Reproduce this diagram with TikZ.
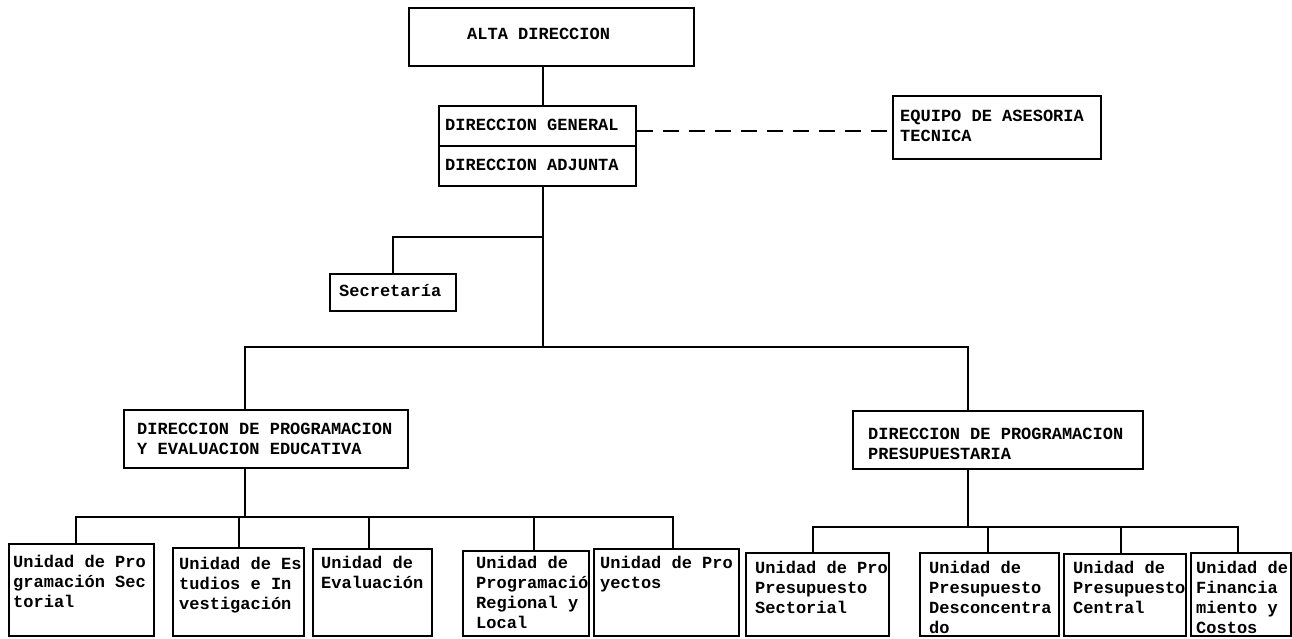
\documentclass[tikz,border=0pt]{standalone}
\usepackage{fontspec}
\setmonofont{Liberation Mono}
\begin{document}
\begin{tikzpicture}[x=1pt,y=-1pt,
  orgbox/.style={draw,line width=2.1pt,anchor=north west,inner sep=0pt},
  orgtext/.style={anchor=base west,inner sep=0pt,
    font=\ttfamily\bfseries\fontsize{17}{20}\selectfont},
  link/.style={line width=2.1pt},
  advice/.style={line width=2.1pt,dash pattern=on 16pt off 10pt}]
\useasboundingbox (0,0) rectangle (1292,638);

% box from (x1,y1) to (x2,y2) with its text set from a given first baseline
\newcommand\orgunit[8]{% name, x1, y1, x2, y2, text x, first baseline, text
  \pgfmathsetmacro\ouw{#4-#2}\pgfmathsetmacro\ouh{#5-#3}
  \node[orgbox,minimum width=\ouw pt,minimum height=\ouh pt] (#1) at (#2,#3) {};
  \node[orgtext] (#1-t) at (#6,#7) {\parbox[t]{300pt}{\raggedright #8}};}

% upper levels
\orgunit{alta}{408}{7}{693}{65}{467}{39}{ALTA DIRECCION}
\orgunit{dg}{438}{105}{635}{145}{445}{130}{DIRECCION GENERAL}
\orgunit{da}{438}{145}{635}{185}{445}{170}{DIRECCION ADJUNTA}
\orgunit{ase}{892}{95}{1100}{158}{900}{121}{EQUIPO DE ASESORIA\\TECNICA}
\orgunit{sec}{329}{273}{455}{310}{339}{296}{Secretaría}
\orgunit{dpee}{123}{409}{407}{467}{137}{434}{DIRECCION DE PROGRAMACION\\Y EVALUACION EDUCATIVA}
\orgunit{dpp}{852}{410}{1142}{468}{868}{439}{DIRECCION DE PROGRAMACION\\PRESUPUESTARIA}

% units under the educational programming direction
\orgunit{u1}{8}{543}{153}{635}{13}{567}{Unidad de Pro\\gramación Sec\\torial}
\orgunit{u2}{172}{547}{303}{635}{179}{569}{Unidad de Es\\tudios e In\\vestigación}
\orgunit{u3}{312}{548}{431}{635}{321}{568}{Unidad de\\Evaluación}
\orgunit{u4}{462}{550}{588}{635}{476}{568}{Unidad de\\Programació\\Regional y\\Local}
\orgunit{u5}{593}{548}{738}{635}{600}{568}{Unidad de Pro\\yectos}

% units under the budget programming direction
\orgunit{u6}{745}{552}{888}{635}{755}{573}{Unidad de Pro\\Presupuesto\\Sectorial}
\orgunit{u7}{919}{552}{1058}{635}{929}{573}{Unidad de\\Presupuesto\\Desconcentra\\do}
\orgunit{u8}{1063}{553}{1185}{635}{1073}{573}{Unidad de\\Presupuesto\\Central}
\orgunit{u9}{1190}{552}{1290}{635}{1196}{573}{Unidad de\\Financia\\miento y\\Costos}

% junction points of the connectors
\coordinate (tk) at (543,0);
\coordinate (sj) at (543,237);
\coordinate (bl) at (245,347);
\coordinate (bm) at (543,347);
\coordinate (br) at (968,347);
\coordinate (el) at (245,517);
\coordinate (e1) at (76,517);
\coordinate (e2) at (239,517);
\coordinate (e3) at (369,517);
\coordinate (e4) at (534,517);
\coordinate (e5) at (673,517);
\coordinate (pr) at (968,527);
\coordinate (p6) at (813,527);
\coordinate (p7) at (988,527);
\coordinate (p8) at (1121,527);
\coordinate (p9) at (1238,527);

% trunk
\draw[link] (alta.south -| tk) -- (dg.north -| tk);
\draw[link] (da.south -| tk) -- (bm);
\draw[advice] ([yshift=-5pt]dg.east) -- ([yshift=-5pt]dg.east -| ase.west);
\draw[link] (sj) -| (sec.north);
\draw[link] (bl |- dpee.north) -- (bl) -- (br) -- (br |- dpp.north);

% educational programming branch
\draw[link] (el |- dpee.south) -- (el);
\draw[link] (e1 |- u1.north) -- (e1) -- (e5) -- (e5 |- u5.north);
\draw[link] (e2) -- (e2 |- u2.north);
\draw[link] (e3) -- (e3 |- u3.north);
\draw[link] (e4) -- (e4 |- u4.north);

% budget programming branch
\draw[link] (pr |- dpp.south) -- (pr);
\draw[link] (p6 |- u6.north) -- (p6) -- (p9) -- (p9 |- u9.north);
\draw[link] (p7) -- (p7 |- u7.north);
\draw[link] (p8) -- (p8 |- u8.north);
\end{tikzpicture}
\end{document}
